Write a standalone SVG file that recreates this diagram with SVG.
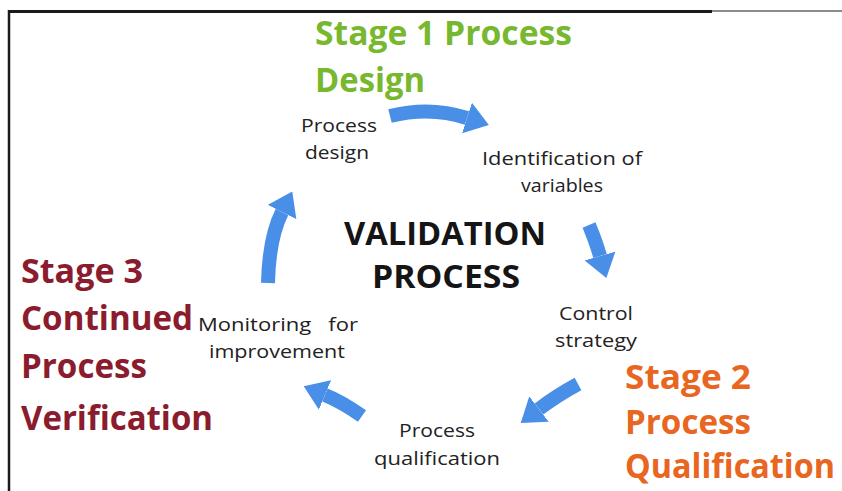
<svg xmlns="http://www.w3.org/2000/svg" width="842" height="491" viewBox="0 0 842 491">
  <style>
    .frame { stroke: #1a1a1a; fill: none; }
    .flow { fill: none; stroke: #4a8fe7; stroke-width: 14; stroke-linecap: butt; marker-end: url(#head); }
    .step { font-family: "Open Sans", "Liberation Sans", sans-serif; font-size: 18px; fill: #222; text-anchor: middle; white-space: pre; }
    .title { font-family: "Open Sans", "Liberation Sans", sans-serif; font-size: 33px; font-weight: bold; fill: #151515; text-anchor: middle; }
    .stage { font-family: "Open Sans", "Liberation Sans", sans-serif; font-size: 34px; font-weight: bold; }
    .s1 { fill: #77b82f; }
    .s2 { fill: #e8661f; }
    .s3 { fill: #8a1c2e; }
  </style>
  <defs>
    <marker id="head" markerUnits="userSpaceOnUse" markerWidth="23" markerHeight="32" viewBox="0 0 23 32" refX="0" refY="16" orient="auto">
      <path d="M0,0 L23,16 L0,32 z" fill="#4a8fe7"/>
    </marker>
  </defs>

  <!-- page border -->
  <g id="border">
    <line class="frame" x1="8" y1="11.5" x2="712" y2="11.5" stroke-width="3"/>
    <line class="frame" x1="712" y1="11" x2="842" y2="11" stroke-width="1.2"/>
    <line class="frame" x1="9" y1="10" x2="9" y2="491" stroke-width="2.5"/>
  </g>

  <!-- cycle arrows -->
  <g id="connectors">
    <path class="flow" d="M390,116 Q430,106 467,118"/>
    <path class="flow" d="M589,225 Q596,242 600,256"/>
    <path class="flow" d="M578,384 Q556,396 539,409"/>
    <path class="flow" d="M362,416 Q342,402 325,395"/>
    <path class="flow" d="M268,283 Q269,238 282,212"/>
  </g>

  <g id="center">
    <text class="title" x="445" y="245" textLength="202" lengthAdjust="spacingAndGlyphs">VALIDATION</text>
    <text class="title" x="446" y="288" textLength="148" lengthAdjust="spacingAndGlyphs">PROCESS</text>
  </g>

  <g id="process-design">
    <text class="step" x="339" y="132" textLength="76" lengthAdjust="spacingAndGlyphs">Process</text>
    <text class="step" x="337" y="159" textLength="64" lengthAdjust="spacingAndGlyphs">design</text>
  </g>

  <g id="identification">
    <text class="step" x="562" y="165" textLength="160" lengthAdjust="spacingAndGlyphs">Identification of</text>
    <text class="step" x="562" y="192" textLength="82" lengthAdjust="spacingAndGlyphs">variables</text>
  </g>

  <g id="control-strategy">
    <text class="step" x="596" y="320" textLength="74" lengthAdjust="spacingAndGlyphs">Control</text>
    <text class="step" x="596" y="347" textLength="82" lengthAdjust="spacingAndGlyphs">strategy</text>
  </g>

  <g id="process-qualification">
    <text class="step" x="437" y="437" textLength="76" lengthAdjust="spacingAndGlyphs">Process</text>
    <text class="step" x="437" y="465" textLength="126" lengthAdjust="spacingAndGlyphs">qualification</text>
  </g>

  <g id="monitoring">
    <text class="step" x="278" y="331" textLength="160" lengthAdjust="spacingAndGlyphs" xml:space="preserve">Monitoring   for</text>
    <text class="step" x="277" y="358" textLength="136" lengthAdjust="spacingAndGlyphs">improvement</text>
  </g>

  <g id="stage-1">
    <text class="stage s1" x="315" y="45" textLength="257" lengthAdjust="spacingAndGlyphs">Stage 1 Process</text>
    <text class="stage s1" x="315" y="92" textLength="110" lengthAdjust="spacingAndGlyphs">Design</text>
  </g>

  <g id="stage-2">
    <text class="stage s2" x="625" y="389" textLength="126" lengthAdjust="spacingAndGlyphs">Stage 2</text>
    <text class="stage s2" x="625" y="434" textLength="126" lengthAdjust="spacingAndGlyphs">Process</text>
    <text class="stage s2" x="625" y="478" font-size="32" textLength="210" lengthAdjust="spacingAndGlyphs">Qualification</text>
  </g>

  <g id="stage-3">
    <text class="stage s3" x="21" y="283" textLength="122" lengthAdjust="spacingAndGlyphs">Stage 3</text>
    <text class="stage s3" x="21" y="330" textLength="172" lengthAdjust="spacingAndGlyphs">Continued</text>
    <text class="stage s3" x="21" y="378" textLength="126" lengthAdjust="spacingAndGlyphs">Process</text>
    <text class="stage s3" x="21" y="430" textLength="192" lengthAdjust="spacingAndGlyphs">Verification</text>
  </g>
</svg>
